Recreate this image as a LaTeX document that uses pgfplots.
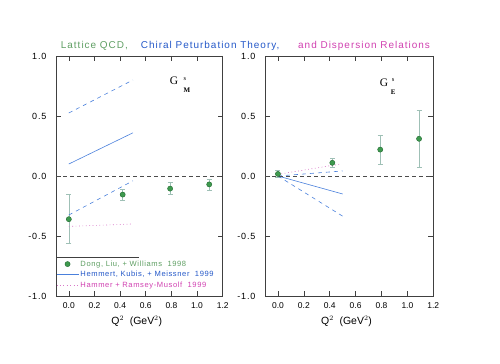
\documentclass[border=0pt]{standalone}
\usepackage{pgfplots}
\pgfplotsset{compat=1.18}
\usepackage{fontspec}
\setmainfont{Liberation Sans}
\newfontfamily\titlefont[LetterSpace=10]{Liberation Sans}
\newfontfamily\legfont[LetterSpace=8]{Liberation Sans}
\newfontfamily\seriffont{Liberation Serif}
\definecolor{ltgreen}{HTML}{5E9E62}
\definecolor{mkgreen}{HTML}{3E9A4E}
\definecolor{mkdark}{HTML}{246B33}
\definecolor{errc}{HTML}{9FC0B6}
\definecolor{tblue}{HTML}{2458C8}
\definecolor{lblue}{HTML}{4A80DC}
\definecolor{tmag}{HTML}{D040B0}
\definecolor{lmag}{HTML}{D878C8}

\pgfplotstableread{
x y ep em
0.00 -0.36 0.21 0.20
0.42 -0.155 0.045 0.045
0.79 -0.105 0.05 0.05
1.095 -0.07 0.04 0.045
}\gmlat
\pgfplotstableread{
x y ep em
0.00 0.017 0.03 0.03
0.42 0.11 0.035 0.035
0.79 0.22 0.12 0.12
1.09 0.31 0.24 0.235
}\gelat

\tikzset{
  gbig/.style={inner sep=0pt, font=\seriffont\fontsize{11.5}{12}\selectfont},
  gsup/.style={inner sep=0pt, font=\seriffont\fontsize{6.5}{7}\selectfont},
  gsub/.style={inner sep=0pt, font=\seriffont\bfseries\fontsize{7}{7}\selectfont},
}

\pgfplotsset{
  panel/.style={
    anchor=south west, scale only axis,
    height=240bp,
    xmin=-0.1, xmax=1.2, ymin=-1, ymax=1,
    xtick={0,0.2,...,1.2}, ytick={-1,-0.5,0,0.5,1},
    tick align=inside, major tick length=5bp,
    xtick pos=both, ytick pos=both,
    axis line style={black!75, line width=0.6pt},
    tick style={black!75, line width=0.6pt},
    /pgf/number format/assume math mode=true,
    /pgf/number format/.cd, fixed, fixed zerofill, precision=1, /pgfplots/.cd,
    xticklabel style={font=\fontsize{8.5}{10}\selectfont, yshift=-3bp},
    yticklabel style={font=\titlefont\fontsize{9}{10}\selectfont, xshift=-6bp},
    yticklabel pos=left, xticklabel pos=lower,
    clip=false,
    legend image code/.code={\draw[mark repeat=2,mark phase=2,##1] plot coordinates {(0bp,0bp) (11bp,0bp) (22bp,0bp)};},
  },
  errp/.style={only marks, mark=none, draw=errc, line width=0.6pt,
    error bars/.cd, y dir=both, y explicit,
    error bar style={errc, line width=0.6pt},
    error mark options={rotate=90, mark size=2.5bp, errc, line width=0.6pt},
    /pgfplots/.cd},
  latm/.style={only marks, mark=*, mark size=2.6bp, mark options={fill=mkgreen, draw=mkdark, line width=0.4pt}},
  chsolid/.style={lblue, line width=0.6pt},
  chdash/.style={lblue, line width=0.6pt, dash pattern=on 4bp off 4bp},
  dispdot/.style={lmag, line width=0.7pt, dash pattern=on 0.8bp off 2.6bp},
}

\begin{document}
\begin{tikzpicture}[x=1bp,y=1bp]
\path[use as bounding box] (0,0) rectangle (500,363);

% title
\node[anchor=base west, inner sep=0pt, text=ltgreen, font=\titlefont\fontsize{10}{12}\selectfont] at (60.7,314.7) {Lattice QCD,};
\node[anchor=base west, inner sep=0pt, text=tblue, font=\titlefont\fontsize{10}{12}\selectfont] at (140.7,314.7) {Chiral Peturbation Theory,};
\node[anchor=base west, inner sep=0pt, text=tmag, font=\titlefont\fontsize{10}{12}\selectfont] at (298,314.7) {and Dispersion Relations};

% left panel: G_M^s
\begin{axis}[panel, at={(56bp,67bp)}, width=166.7bp,
  legend style={at={(axis cs:-0.1,-0.69)}, anchor=north west, draw=none, fill=none,
    font=\legfont\fontsize{7.6}{8}\selectfont, row sep=0.3bp, inner xsep=0bp, inner ysep=0bp,
    nodes={inner sep=1.6bp}},
  legend cell align=left]
\addplot[errp, forget plot] table[x=x, y=y, y error plus=ep, y error minus=em] {\gmlat};
\addplot[latm] table[x=x, y=y] {\gmlat};
\addlegendentry{\textcolor{ltgreen}{Dong,\ Liu,\ + Williams\ \ 1998}}
\addplot[chsolid] coordinates {(0,0.10) (0.5,0.36)};
\addlegendentry{\textcolor{tblue}{Hemmert,\ Kubis,\ + Meissner\ \ 1999}}
\addplot[dispdot] coordinates {(0,-0.42) (0.5,-0.40)};
\addlegendentry{\textcolor{tmag}{Hammer\ + Ramsey-Musolf\ \ 1999}}
\addplot[chdash, forget plot] coordinates {(0,0.525) (0.5,0.80)};
\addplot[chdash, forget plot] coordinates {(0,-0.325) (0.5,-0.04)};
\addplot[black!70, line width=0.6pt, dash pattern=on 4bp off 3bp, forget plot] coordinates {(-0.1,0) (1.2,0)};
\draw[black!75, line width=0.6pt] (axis cs:-0.1,-0.675) -- (axis cs:0.545,-0.675);
\node[gbig] at (axis cs:0.82,0.79) {G};
\node[gsup] at (axis cs:0.905,0.81) {s};
\node[gsub] at (axis cs:0.92,0.715) {M};
\node[anchor=base, font=\fontsize{10.5}{12}\selectfont] at (axis cs:0.53,-1.24) {Q$^2$\ \ (GeV$^2$)};
\end{axis}

% right panel: G_E^s
\begin{axis}[panel, at={(265bp,67bp)}, width=168.3bp]
\addplot[errp, forget plot] table[x=x, y=y, y error plus=ep, y error minus=em] {\gelat};
\addplot[latm] table[x=x, y=y] {\gelat};
\addplot[chsolid] coordinates {(0,0) (0.5,-0.15)};
\addplot[dispdot] coordinates {(0,0.014) (0.487,0.10)};
\addplot[chdash] coordinates {(0,0) (0.5,0.042)};
\addplot[chdash] coordinates {(0,0) (0.5,-0.335)};
\addplot[black!70, line width=0.6pt, dash pattern=on 4bp off 3bp] coordinates {(-0.1,0) (1.2,0)};
\node[gbig] at (axis cs:0.82,0.775) {G};
\node[gsup] at (axis cs:0.89,0.80) {s};
\node[gsub] at (axis cs:0.89,0.70) {E};
\node[anchor=base, font=\fontsize{10.5}{12}\selectfont] at (axis cs:0.53,-1.24) {Q$^2$\ \ (GeV$^2$)};
\end{axis}
\end{tikzpicture}
\end{document}
